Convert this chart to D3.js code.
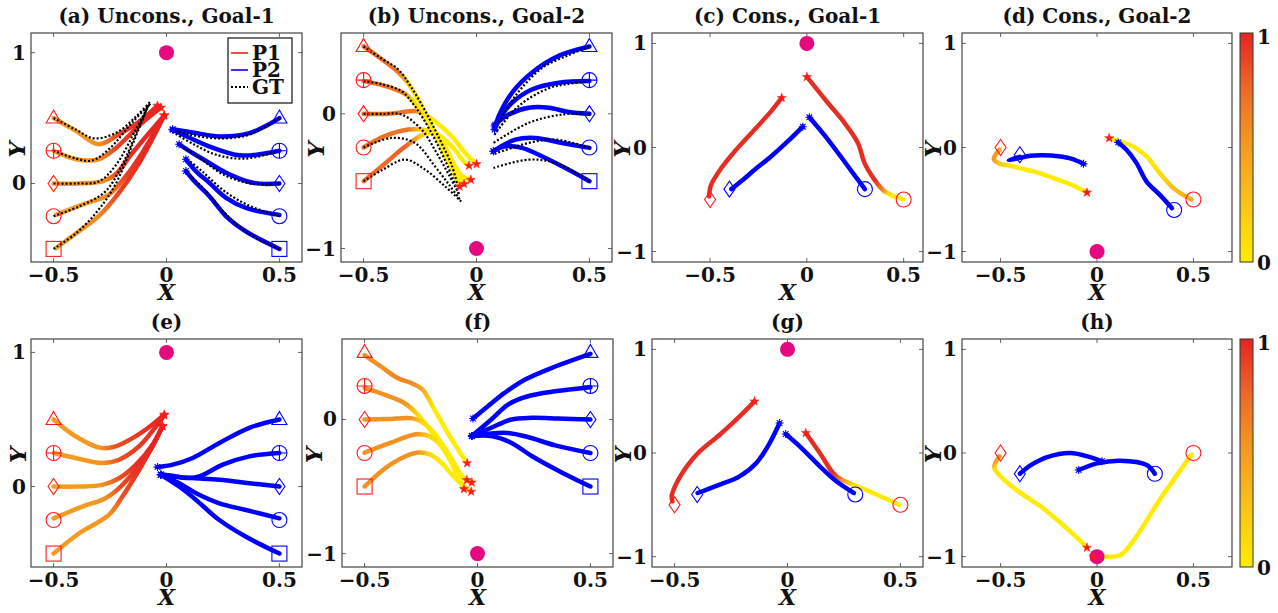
<!DOCTYPE html>
<html><head><meta charset="utf-8">
<script src="https://cdn.jsdelivr.net/npm/d3@7"></script>
<style>
body{margin:0;background:#fff}
svg{display:block}
text{font-family:"DejaVu Serif",serif;font-weight:bold;fill:#111}
</style>
</head><body>
<svg id="chart" width="1278" height="613"></svg>
<script>
// ---------------- DATA ----------------
const titles = ["(a) Uncons., Goal-1","(b) Uncons., Goal-2","(c) Cons., Goal-1","(d) Cons., Goal-2","(e)","(f)","(g)","(h)"];
const xTicks = [-0.5, 0, 0.5];
const yTicksG1 = [0, 1];
const yTicksG2 = [-1, 0];
const yTicksCons = [-1, 0, 1];
const legendLabels = ["P1","P2","GT"];
const cbarTicks = [0, 1];
const goals = [[0,1],[0,-1],[0,1],[0,-1],[0,1],[0,-1],[0,1],[0,-1]];

// start positions for the unconstrained panels (P1 at x=-0.5, P2 at x=0.5)
const startY = [0.5, 0.25, 0, -0.25, -0.5];
const startShapes = ["triangle","circleplus","diamond","circle","square"];

// (a)
const aP1 = [
 [[-0.5,0.5],[-0.4,0.4],[-0.3,0.3],[-0.21,0.377],[-0.107,0.49],[-0.04,0.595]],
 [[-0.5,0.25],[-0.4,0.185],[-0.3,0.185],[-0.225,0.27],[-0.107,0.466],[-0.025,0.58]],
 [[-0.5,0],[-0.39,0],[-0.28,0.018],[-0.225,0.07],[-0.15,0.236],[-0.01,0.52]],
 [[-0.49,-0.24],[-0.37,-0.16],[-0.255,-0.085],[-0.18,0.056],[-0.107,0.236],[-0.01,0.52]],
 [[-0.49,-0.495],[-0.4,-0.38],[-0.3,-0.25],[-0.21,-0.07],[-0.12,0.16],[-0.01,0.52]]
];
const aP1Val = [
 [0.5,0.5,0.55,0.9,0.97,1],
 [0.5,0.5,0.55,0.9,0.97,1],
 [0.5,0.5,0.55,0.85,0.97,1],
 [0.5,0.5,0.6,0.9,0.97,1],
 [0.5,0.5,0.6,0.9,0.97,1]
];
const aGT1 = [
 [[-0.5,0.5],[-0.4,0.41],[-0.32,0.345],[-0.22,0.39],[-0.13,0.52],[-0.07,0.63]],
 [[-0.5,0.25],[-0.4,0.19],[-0.33,0.175],[-0.25,0.27],[-0.15,0.47],[-0.065,0.62]],
 [[-0.5,0],[-0.4,0],[-0.3,0.015],[-0.22,0.15],[-0.14,0.4],[-0.075,0.61]],
 [[-0.5,-0.25],[-0.38,-0.17],[-0.27,-0.06],[-0.2,0.13],[-0.13,0.4],[-0.08,0.6]],
 [[-0.5,-0.5],[-0.4,-0.38],[-0.31,-0.22],[-0.23,-0.02],[-0.15,0.3],[-0.085,0.58]]
];
const aP2 = [
 [[0.5,0.5],[0.44,0.44],[0.367,0.385],[0.234,0.36],[0.116,0.39],[0.027,0.415]],
 [[0.5,0.25],[0.412,0.223],[0.323,0.215],[0.204,0.274],[0.1,0.351],[0.027,0.41]],
 [[0.5,0],[0.382,0.005],[0.264,0.082],[0.175,0.172],[0.1,0.249],[0.056,0.3]],
 [[0.5,-0.24],[0.352,-0.187],[0.264,-0.11],[0.19,0.005],[0.13,0.095],[0.086,0.185]],
 [[0.5,-0.5],[0.352,-0.367],[0.264,-0.251],[0.19,-0.097],[0.13,0.005],[0.086,0.095]]
];
const aGT2 = [
 [[0.5,0.5],[0.36,0.37],[0.22,0.345],[0.1,0.375],[0.03,0.41]],
 [[0.5,0.25],[0.35,0.19],[0.22,0.22],[0.12,0.3],[0.03,0.39]],
 [[0.5,0],[0.37,0],[0.25,0.07],[0.15,0.19],[0.07,0.28]],
 [[0.5,-0.25],[0.36,-0.165],[0.25,-0.05],[0.16,0.09],[0.1,0.175]],
 [[0.5,-0.5],[0.37,-0.39],[0.26,-0.23],[0.17,-0.05],[0.1,0.07]]
];

// (b)
const bP1 = [
 [[-0.5,0.5],[-0.42,0.405],[-0.347,0.31],[-0.3,0.22],[-0.243,0.06],[-0.184,-0.14],[-0.124,-0.34],[-0.075,-0.54]],
 [[-0.5,0.243],[-0.406,0.208],[-0.325,0.156],[-0.295,0.12],[-0.228,-0.03],[-0.169,-0.2],[-0.11,-0.4],[-0.055,-0.52]],
 [[-0.5,0],[-0.391,0],[-0.272,0.02],[-0.243,0.008],[-0.184,-0.055],[-0.11,-0.166],[-0.05,-0.29],[0,-0.373]],
 [[-0.5,-0.25],[-0.406,-0.166],[-0.302,-0.117],[-0.243,-0.117],[-0.184,-0.141],[-0.11,-0.24],[-0.05,-0.365],[-0.033,-0.385]],
 [[-0.5,-0.5],[-0.406,-0.37],[-0.317,-0.245],[-0.243,-0.16],[-0.199,-0.141],[-0.154,-0.2],[-0.11,-0.34],[-0.065,-0.46],[-0.025,-0.49]]
];
const bP1Val = [
 [0.72,0.72,0.7,0.15,0,0,0,0],
 [0.72,0.72,0.68,0.15,0,0,0,0],
 [0.72,0.72,0.7,0.1,0,0,0,0],
 [0.72,0.72,0.7,0.15,0,0,0,0],
 [0.72,0.75,0.8,0.2,0,0,0,0,0]
];
const bGT1 = [
 [[-0.5,0.5],[-0.42,0.41],[-0.347,0.33],[-0.29,0.2],[-0.22,0.0],[-0.16,-0.2],[-0.11,-0.38],[-0.08,-0.56]],
 [[-0.5,0.243],[-0.42,0.22],[-0.332,0.168],[-0.273,0.057],[-0.2,-0.14],[-0.13,-0.38],[-0.08,-0.59]],
 [[-0.5,0],[-0.42,0],[-0.332,-0.005],[-0.243,-0.117],[-0.18,-0.28],[-0.12,-0.46],[-0.073,-0.61]],
 [[-0.5,-0.25],[-0.376,-0.179],[-0.273,-0.216],[-0.184,-0.39],[-0.12,-0.53],[-0.073,-0.637]],
 [[-0.5,-0.5],[-0.42,-0.42],[-0.317,-0.34],[-0.228,-0.414],[-0.139,-0.539],[-0.068,-0.65]]
];
const bP2 = [
 [[0.5,0.5],[0.364,0.43],[0.245,0.305],[0.157,0.156],[0.098,-0.018],[0.08,-0.117]],
 [[0.5,0.243],[0.364,0.231],[0.245,0.181],[0.157,0.082],[0.098,-0.042],[0.08,-0.09]],
 [[0.5,0],[0.409,0.013],[0.32,0.045],[0.231,0.045],[0.142,-0.005],[0.083,-0.08]],
 [[0.5,-0.253],[0.379,-0.216],[0.26,-0.179],[0.172,-0.191],[0.098,-0.253],[0.075,-0.278]],
 [[0.5,-0.5],[0.379,-0.39],[0.29,-0.315],[0.201,-0.253],[0.127,-0.241],[0.075,-0.278]]
];
const bGT2 = [
 [[0.5,0.5],[0.4,0.43],[0.29,0.34],[0.171,0.131],[0.083,-0.117]],
 [[0.5,0.243],[0.4,0.22],[0.32,0.19],[0.186,0.057],[0.075,-0.166]],
 [[0.5,0],[0.379,-0.005],[0.231,-0.067],[0.075,-0.216]],
 [[0.5,-0.253],[0.35,-0.191],[0.231,-0.216],[0.075,-0.3]],
 [[0.5,-0.5],[0.35,-0.365],[0.231,-0.34],[0.075,-0.402]]
];

// (c)
const cStarts1 = [[-0.5,-0.5,"diamond"],[0.5,-0.5,"circle"]];
const cStarts2 = [[-0.4,-0.4,"diamond"],[0.3,-0.4,"circle"]];
const cP1 = [
 [[-0.505,-0.47],[-0.495,-0.36],[-0.443,-0.2],[-0.374,-0.04],[-0.271,0.17],[-0.185,0.347],[-0.13,0.476]],
 [[0.497,-0.498],[0.45,-0.47],[0.419,-0.44],[0.393,-0.408],[0.35,-0.311],[0.298,-0.15],[0.264,0.042],[0.195,0.235],[0.109,0.428],[0,0.678]]
];
const cP1Val = [
 [0.97,0.97,0.97,0.97,0.97,0.97,0.97],
 [0,0,0.1,0.6,0.97,0.97,0.97,0.97,0.97,0.97]
];
const cP2 = [
 [[-0.39,-0.4],[-0.33,-0.31],[-0.27,-0.214],[-0.185,-0.086],[-0.099,0.058],[-0.021,0.2]],
 [[0.3,-0.4],[0.212,-0.18],[0.109,0.076],[0.013,0.29]]
];

// (d)
const dStarts1 = [[-0.5,0,"diamond"],[0.5,-0.5,"circle"]];
const dStarts2 = [[-0.4,-0.07,"diamond"],[0.4,-0.6,"circle"]];
const dP1 = [
 [[-0.505,-0.02],[-0.522,-0.06],[-0.535,-0.11],[-0.505,-0.155],[-0.45,-0.175],[-0.397,-0.2],[-0.3,-0.245],[-0.224,-0.295],[-0.13,-0.36],[-0.052,-0.433]],
 [[0.49,-0.5],[0.447,-0.455],[0.39,-0.38],[0.326,-0.247],[0.257,-0.086],[0.188,0.01],[0.12,0.058],[0.063,0.09]]
];
const dP1Val = [
 [0.5,0.5,0.45,0.2,0.05,0,0,0,0,0],
 [0.4,0.35,0.3,0.1,0,0,0,0]
];
const dP2 = [
 [[-0.4,-0.09],[-0.458,-0.12],[-0.4,-0.1],[-0.346,-0.08],[-0.28,-0.075],[-0.2,-0.085],[-0.13,-0.11],[-0.07,-0.157]],
 [[0.389,-0.583],[0.326,-0.455],[0.257,-0.327],[0.205,-0.15],[0.153,-0.022],[0.11,0.049]]
];

// (e)
const eP1 = [
 [[-0.5,0.5],[-0.403,0.375],[-0.292,0.288],[-0.225,0.3],[-0.136,0.375],[-0.062,0.462],[-0.01,0.537]],
 [[-0.5,0.25],[-0.403,0.213],[-0.284,0.175],[-0.21,0.2],[-0.121,0.3],[-0.05,0.44],[-0.01,0.53]],
 [[-0.5,0],[-0.388,0],[-0.284,0.012],[-0.21,0.062],[-0.136,0.162],[-0.062,0.312],[-0.018,0.45]],
 [[-0.5,-0.237],[-0.373,-0.15],[-0.27,-0.087],[-0.21,-0.012],[-0.136,0.125],[-0.062,0.3],[-0.018,0.45]],
 [[-0.5,-0.5],[-0.388,-0.35],[-0.255,-0.212],[-0.195,-0.075],[-0.121,0.125],[-0.062,0.3],[-0.018,0.45]]
];
const eP1Val = [
 [0.5,0.5,0.55,0.85,0.92,0.97,1],
 [0.5,0.5,0.55,0.85,0.92,0.97,1],
 [0.5,0.5,0.55,0.85,0.95,1,1],
 [0.5,0.5,0.55,0.85,0.95,1,1],
 [0.5,0.5,0.55,0.85,0.95,1,1]
];
const eP2 = [
 [[0.5,0.5],[0.367,0.438],[0.234,0.325],[0.116,0.213],[0.027,0.163],[-0.04,0.145]],
 [[0.5,0.25],[0.367,0.225],[0.249,0.163],[0.145,0.075],[0.086,0.063],[0.027,0.08],[-0.025,0.09]],
 [[0.5,0],[0.367,0.025],[0.234,0.05],[0.116,0.063],[0.027,0.075],[-0.025,0.088]],
 [[0.5,-0.237],[0.352,-0.175],[0.234,-0.125],[0.131,-0.05],[0.056,0.025],[-0.025,0.088]],
 [[0.5,-0.5],[0.352,-0.375],[0.234,-0.25],[0.131,-0.1],[0.056,0.0],[-0.025,0.088]]
];

// (f)
const fP1 = [
 [[-0.5,0.48],[-0.428,0.395],[-0.354,0.309],[-0.294,0.272],[-0.243,0.222],[-0.191,0.074],[-0.132,-0.099],[-0.087,-0.222],[-0.046,-0.326]],
 [[-0.5,0.235],[-0.413,0.185],[-0.324,0.123],[-0.265,0.037],[-0.206,-0.086],[-0.132,-0.247],[-0.065,-0.43],[-0.047,-0.452]],
 [[-0.5,0],[-0.398,0.003],[-0.294,0.01],[-0.25,-0.015],[-0.199,-0.086],[-0.132,-0.247],[-0.072,-0.42],[-0.025,-0.47]],
 [[-0.5,-0.247],[-0.383,-0.173],[-0.272,-0.111],[-0.213,-0.124],[-0.161,-0.198],[-0.109,-0.346],[-0.06,-0.519]],
 [[-0.5,-0.5],[-0.383,-0.333],[-0.265,-0.247],[-0.213,-0.259],[-0.161,-0.321],[-0.109,-0.42],[-0.065,-0.49],[-0.028,-0.538]]
];
const fP1Val = [
 [0.55,0.55,0.62,0.6,0.4,0,0,0,0],
 [0.55,0.55,0.55,0.1,0,0,0,0],
 [0.55,0.55,0.55,0.15,0,0,0,0],
 [0.55,0.55,0.55,0.15,0,0,0],
 [0.55,0.55,0.55,0.15,0,0,0,0]
];
const fP2 = [
 [[0.5,0.49],[0.344,0.395],[0.209,0.296],[0.12,0.198],[0.046,0.099],[-0.02,0.007]],
 [[0.5,0.24],[0.344,0.21],[0.223,0.173],[0.135,0.111],[0.061,0.0],[-0.025,-0.123]],
 [[0.5,0],[0.359,0.007],[0.24,0.012],[0.15,0.0],[0.061,-0.062],[-0.025,-0.123]],
 [[0.5,-0.25],[0.344,-0.193],[0.223,-0.131],[0.135,-0.101],[0.046,-0.106],[-0.025,-0.123]],
 [[0.5,-0.5],[0.373,-0.395],[0.24,-0.272],[0.149,-0.173],[0.061,-0.123],[-0.025,-0.123]]
];

// (g)
const gStarts1 = [[-0.5,-0.5,"diamond"],[0.5,-0.5,"circle"]];
const gStarts2 = [[-0.4,-0.4,"diamond"],[0.3,-0.4,"circle"]];
const gP1 = [
 [[-0.509,-0.466],[-0.513,-0.418],[-0.491,-0.29],[-0.44,-0.113],[-0.389,0.015],[-0.3,0.176],[-0.212,0.353],[-0.146,0.498]],
 [[0.495,-0.5],[0.394,-0.4],[0.291,-0.305],[0.239,-0.257],[0.202,-0.193],[0.143,0],[0.081,0.193]]
];
const gP1Val = [
 [0.97,0.97,0.97,0.97,0.97,0.97,0.97,0.97],
 [0,0,0.05,0.6,0.97,0.97,0.97]
];
const gP2 = [
 [[-0.398,-0.386],[-0.3,-0.305],[-0.212,-0.225],[-0.138,-0.096],[-0.079,0.096],[-0.035,0.289]],
 [[0.294,-0.386],[0.216,-0.273],[0.143,-0.128],[0.054,0.064],[-0.008,0.183]]
];

// (h)
const hStarts1 = [[-0.5,0,"diamond"],[0.5,0,"circle"]];
const hStarts2 = [[-0.4,-0.2,"diamond"],[0.3,-0.2,"circle"]];
const hP1 = [
 [[-0.505,-0.032],[-0.527,-0.096],[-0.532,-0.144],[-0.501,-0.224],[-0.397,-0.385],[-0.294,-0.513],[-0.19,-0.673],[-0.104,-0.817],[-0.052,-0.913]],
 [[0.49,-0.016],[0.447,-0.128],[0.326,-0.449],[0.188,-0.849],[0.12,-0.987],[0.034,-1.0],[-0.018,-1.0]]
];
const hP1Val = [
 [0.5,0.45,0.1,0,0,0,0,0,0],
 [0,0,0,0,0,0,0]
];
const hP2 = [
 [[-0.4,-0.2],[-0.345,-0.12],[-0.259,-0.04],[-0.138,0.0],[-0.035,-0.04],[0.026,-0.08]],
 [[0.3,-0.2],[0.258,-0.115],[0.12,-0.074],[0,-0.1],[-0.095,-0.164]]
];

// ---------------- LAYOUT ----------------
const uncStarts1 = startY.map((y,i)=>[-0.5,y,startShapes[i]]);
const uncStarts2 = startY.map((y,i)=>[0.5,y,startShapes[i]]);
const panels = [
 {l:31, r:302, t:33, b:262, xd:[-0.6,0.6], yd:[-0.6,1.15], yt:yTicksG1, ylx:17, p1:aP1, p1v:aP1Val, gt1:aGT1, p2:aP2, gt2:aGT2, s1:uncStarts1, s2:uncStarts2, legend:true},
 {l:341, r:612, t:33, b:262, xd:[-0.6,0.6], yd:[-1.1,0.6], yt:yTicksG2, ylx:316, p1:bP1, p1v:bP1Val, gt1:bGT1, p2:bP2, gt2:bGT2, s1:uncStarts1, s2:uncStarts2},
 {l:652, r:923, t:33, b:262, xd:[-0.8,0.6], yd:[-1.1,1.1], yt:yTicksCons, ylx:622, p1:cP1, p1v:cP1Val, p2:cP2, s1:cStarts1, s2:cStarts2},
 {l:962, r:1232, t:33, b:262, xd:[-0.7,0.7], yd:[-1.1,1.1], yt:yTicksCons, ylx:933, p1:dP1, p1v:dP1Val, p2:dP2, s1:dStarts1, s2:dStarts2, cbar:true},
 {l:31, r:302, t:339, b:567, xd:[-0.6,0.6], yd:[-0.6,1.1], yt:yTicksG1, ylx:18, p1:eP1, p1v:eP1Val, p2:eP2, s1:uncStarts1, s2:uncStarts2},
 {l:342, r:613, t:339, b:567, xd:[-0.6,0.6], yd:[-1.1,0.6], yt:yTicksG2, ylx:314, p1:fP1, p1v:fP1Val, p2:fP2, s1:uncStarts1, s2:uncStarts2},
 {l:652, r:923, t:339, b:567, xd:[-0.6,0.6], yd:[-1.1,1.1], yt:yTicksCons, ylx:623, p1:gP1, p1v:gP1Val, p2:gP2, s1:gStarts1, s2:gStarts2},
 {l:962, r:1232, t:339, b:567, xd:[-0.7,0.7], yd:[-1.1,1.1], yt:yTicksCons, ylx:933, p1:hP1, p1v:hP1Val, p2:hP2, s1:hStarts1, s2:hStarts2, cbar:true}
];

const RED = "#ff1a1a", BLUE = "#0000ff", GOAL = "#e6087f";
const cmap = d3.scaleLinear().domain([0,0.25,0.5,0.75,1])
  .range(["#ffec00","#fbc418","#f59c20","#ee6b27","#e52421"]).clamp(true);

const svg = d3.select("#chart");
const defs = svg.append("defs");
const line = d3.line().curve(d3.curveCatmullRom.alpha(0.5));
let gid = 0;

function fmt(v){ return v < 0 ? "\u2212" + Math.abs(v) : String(v); }

function marker(g, shape, cx, cy, color){
  let el;
  if (shape === "circle") el = g.append("circle").attr("cx",cx).attr("cy",cy).attr("r",7.5);
  else if (shape === "circleplus") {
    g.append("circle").attr("cx",cx).attr("cy",cy).attr("r",7.5).attr("fill","none").attr("stroke",color).attr("stroke-width",1.1);
    el = g.append("path").attr("d",`M${cx-7.5},${cy}H${cx+7.5}M${cx},${cy-7.5}V${cy+7.5}`);
  }
  else if (shape === "square") el = g.append("rect").attr("x",cx-7.5).attr("y",cy-7.5).attr("width",15).attr("height",15);
  else if (shape === "triangle") el = g.append("path").attr("d",`M${cx},${cy-8}L${cx+7.5},${cy+5}L${cx-7.5},${cy+5}Z`);
  else if (shape === "diamond") el = g.append("path").attr("d",`M${cx},${cy-8}L${cx+5.5},${cy}L${cx},${cy+8}L${cx-5.5},${cy}Z`);
  el.attr("fill","none").attr("stroke",color).attr("stroke-width",1.1);
}
function redStar(g, cx, cy){
  g.append("path").attr("d", d3.symbol(d3.symbolStar, 26)()).attr("transform",`translate(${cx},${cy})`).attr("fill",RED).attr("stroke",RED).attr("stroke-width",0.5);
}
function blueAst(g, cx, cy){
  const r = 4, q = r*0.707;
  g.append("path").attr("d",`M${cx-r},${cy}H${cx+r}M${cx},${cy-r}V${cy+r}M${cx-q},${cy-q}L${cx+q},${cy+q}M${cx-q},${cy+q}L${cx+q},${cy-q}`)
    .attr("stroke",BLUE).attr("stroke-width",1.1).attr("fill","none");
}

panels.forEach((p, pi) => {
  const sx = d3.scaleLinear().domain(p.xd).range([p.l, p.r]);
  const sy = d3.scaleLinear().domain(p.yd).range([p.b, p.t]);
  const g = svg.append("g");
  const clipId = "clip" + pi;
  defs.append("clipPath").attr("id", clipId).append("rect").attr("x",p.l).attr("y",p.t).attr("width",p.r-p.l).attr("height",p.b-p.t);

  g.append("rect").attr("x",p.l).attr("y",p.t).attr("width",p.r-p.l).attr("height",p.b-p.t).attr("fill","#fff");

  // ticks (inside, all four sides)
  const tk = g.append("g").attr("stroke","#666").attr("stroke-width",1);
  xTicks.forEach(v => {
    tk.append("line").attr("x1",sx(v)).attr("x2",sx(v)).attr("y1",p.b).attr("y2",p.b-4);
    tk.append("line").attr("x1",sx(v)).attr("x2",sx(v)).attr("y1",p.t).attr("y2",p.t+4);
    g.append("text").attr("x",sx(v)).attr("y",p.b+20).attr("text-anchor","middle").attr("font-size",20).text(fmt(v));
  });
  p.yt.forEach(v => {
    tk.append("line").attr("y1",sy(v)).attr("y2",sy(v)).attr("x1",p.l).attr("x2",p.l+4);
    tk.append("line").attr("y1",sy(v)).attr("y2",sy(v)).attr("x1",p.r).attr("x2",p.r-4);
    g.append("text").attr("x",p.l-5).attr("y",sy(v)+7).attr("text-anchor","end").attr("font-size",20).text(fmt(v));
  });

  // title and axis labels
  g.append("text").attr("x",(p.l+p.r)/2).attr("y",p.t-10).attr("text-anchor","middle").attr("font-size",20).text(titles[pi]);
  g.append("text").attr("x",(p.l+p.r)/2).attr("y",p.b+38).attr("text-anchor","middle").attr("font-size",22).attr("font-style","italic").text("X");
  g.append("text").attr("transform",`translate(${p.ylx+8},${(p.t+p.b)/2+2}) rotate(-90)`).attr("text-anchor","middle").attr("font-size",23).attr("font-style","italic").text("Y");

  const pg = g.append("g").attr("clip-path",`url(#${clipId})`);

  // P1 coloured trajectories
  p.p1.forEach((tr, i) => {
    const P = tr.map(d => [sx(d[0]), sy(d[1])]);
    const vals = p.p1v[i];
    const a = P[0], b = P[P.length-1];
    const dx = b[0]-a[0], dy = b[1]-a[1], L2 = dx*dx+dy*dy;
    const id = "gr" + (gid++);
    const gr = defs.append("linearGradient").attr("id",id).attr("gradientUnits","userSpaceOnUse")
      .attr("x1",a[0]).attr("y1",a[1]).attr("x2",b[0]).attr("y2",b[1]);
    let prev = 0;
    P.forEach((q, j) => {
      let o = ((q[0]-a[0])*dx + (q[1]-a[1])*dy) / L2;
      o = Math.max(prev, Math.min(1, o)); prev = o;
      gr.append("stop").attr("offset", o).attr("stop-color", cmap(vals[j]));
    });
    pg.append("path").attr("d", line(P)).attr("fill","none").attr("stroke",`url(#${id})`)
      .attr("stroke-width",4.5).attr("stroke-linecap","round").attr("stroke-linejoin","round");
  });
  // P2 blue trajectories
  p.p2.forEach(tr => {
    pg.append("path").attr("d", line(tr.map(d => [sx(d[0]), sy(d[1])]))).attr("fill","none")
      .attr("stroke",BLUE).attr("stroke-width",4.5).attr("stroke-linecap","round").attr("stroke-linejoin","round");
  });
  // ground truth
  [p.gt1, p.gt2].forEach(set => {
    if (!set) return;
    set.forEach(tr => {
      pg.append("path").attr("d", line(tr.map(d => [sx(d[0]), sy(d[1])]))).attr("fill","none")
        .attr("stroke","#000").attr("stroke-width",2.2).attr("stroke-dasharray","2,2");
    });
  });

  // start markers
  p.s1.forEach(s => marker(pg, s[2], sx(s[0]), sy(s[1]), RED));
  p.s2.forEach(s => marker(pg, s[2], sx(s[0]), sy(s[1]), BLUE));

  // goal
  const gl = goals[pi];
  pg.append("circle").attr("cx",sx(gl[0])).attr("cy",sy(gl[1])).attr("r",7.5).attr("fill",GOAL);

  // end markers
  p.p1.forEach(tr => { const e = tr[tr.length-1]; redStar(pg, sx(e[0]), sy(e[1])); });
  p.p2.forEach(tr => { const e = tr[tr.length-1]; blueAst(pg, sx(e[0]), sy(e[1])); });

  // frame border
  g.append("rect").attr("x",p.l).attr("y",p.t).attr("width",p.r-p.l).attr("height",p.b-p.t)
    .attr("fill","none").attr("stroke","#444").attr("stroke-width",1.2);

  // legend
  if (p.legend) {
    const lx = 228, ly = 38;
    g.append("rect").attr("x",lx).attr("y",ly).attr("width",64).attr("height",65).attr("fill","#fff").attr("stroke","#111").attr("stroke-width",1.2);
    const cols = [RED, BLUE, "#000"];
    legendLabels.forEach((lab, k) => {
      const yy = ly + 15 + k*17;
      const ln = g.append("line").attr("x1",lx+3).attr("x2",lx+20).attr("y1",yy).attr("y2",yy).attr("stroke",cols[k]).attr("stroke-width",1.6);
      if (k === 2) ln.attr("stroke-dasharray","2,2").attr("stroke-width",2);
      g.append("text").attr("x",lx+24).attr("y",yy+7).attr("font-size",20).text(lab);
    });
  }

  // colorbar
  if (p.cbar) {
    const cx0 = 1240, cw = 13;
    const cs = d3.scaleLinear().domain([0,1]).range([p.b, p.t]);
    const id = "cb" + pi;
    const cg = defs.append("linearGradient").attr("id",id).attr("x1",0).attr("y1",1).attr("x2",0).attr("y2",0);
    d3.range(0, 1.0001, 0.05).forEach(v => cg.append("stop").attr("offset",v).attr("stop-color",cmap(v)));
    g.append("rect").attr("x",cx0).attr("y",p.t).attr("width",cw).attr("height",p.b-p.t).attr("fill",`url(#${id})`).attr("stroke","#333").attr("stroke-width",1);
    cbarTicks.forEach(v => {
      g.append("text").attr("x",cx0+cw+4).attr("y", v===1 ? cs(v)+11 : cs(v)+8).attr("font-size",20).text(String(v));
    });
  }
});
</script>
</body></html>
